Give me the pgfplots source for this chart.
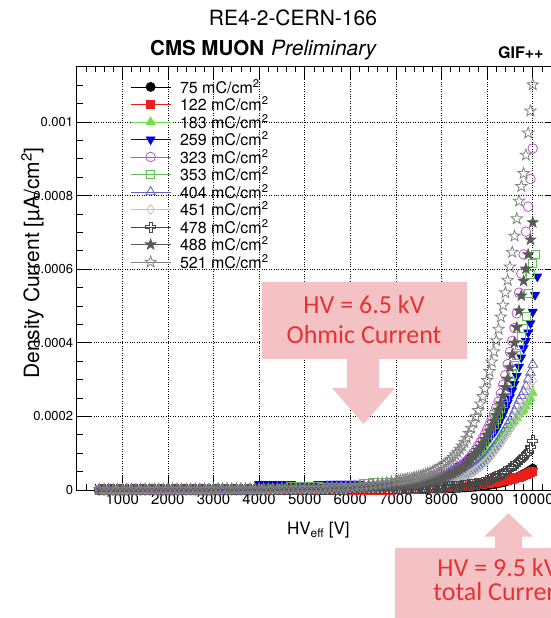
\documentclass[border=0pt]{standalone}
\usepackage{pgfplots}
\pgfplotsset{compat=1.18}
\usepackage{pgfplotstable}
\usepackage{fontspec}
\setmainfont{TeX Gyre Heros}
\newfontfamily\calibri{Carlito}

\definecolor{c75}{RGB}{0,0,0}
\definecolor{c122}{RGB}{235,30,25}
\definecolor{c183}{RGB}{110,225,70}
\definecolor{c259}{RGB}{0,0,230}
\definecolor{c323}{RGB}{190,80,200}
\definecolor{c353}{RGB}{100,190,90}
\definecolor{c404}{RGB}{100,100,190}
\definecolor{c451}{RGB}{195,195,195}
\definecolor{c478}{RGB}{70,70,70}
\definecolor{c488}{RGB}{90,90,90}
\definecolor{c521}{RGB}{130,130,130}
\definecolor{pinkbox}{RGB}{244,194,196}
\definecolor{annred}{RGB}{230,50,50}

% open five-pointed star
\pgfdeclareplotmark{ostar}{%
  \pgfpathmoveto{\pgfpointpolar{90}{\pgfplotmarksize}}%
  \pgfpathlineto{\pgfpointpolar{126}{0.4\pgfplotmarksize}}%
  \pgfpathlineto{\pgfpointpolar{162}{\pgfplotmarksize}}%
  \pgfpathlineto{\pgfpointpolar{198}{0.4\pgfplotmarksize}}%
  \pgfpathlineto{\pgfpointpolar{234}{\pgfplotmarksize}}%
  \pgfpathlineto{\pgfpointpolar{270}{0.4\pgfplotmarksize}}%
  \pgfpathlineto{\pgfpointpolar{306}{\pgfplotmarksize}}%
  \pgfpathlineto{\pgfpointpolar{342}{0.4\pgfplotmarksize}}%
  \pgfpathlineto{\pgfpointpolar{18}{\pgfplotmarksize}}%
  \pgfpathlineto{\pgfpointpolar{54}{0.4\pgfplotmarksize}}%
  \pgfpathclose\pgfusepathqstroke}
% filled five-pointed star
\pgfdeclareplotmark{fstar}{%
  \pgfpathmoveto{\pgfpointpolar{90}{\pgfplotmarksize}}%
  \pgfpathlineto{\pgfpointpolar{126}{0.4\pgfplotmarksize}}%
  \pgfpathlineto{\pgfpointpolar{162}{\pgfplotmarksize}}%
  \pgfpathlineto{\pgfpointpolar{198}{0.4\pgfplotmarksize}}%
  \pgfpathlineto{\pgfpointpolar{234}{\pgfplotmarksize}}%
  \pgfpathlineto{\pgfpointpolar{270}{0.4\pgfplotmarksize}}%
  \pgfpathlineto{\pgfpointpolar{306}{\pgfplotmarksize}}%
  \pgfpathlineto{\pgfpointpolar{342}{0.4\pgfplotmarksize}}%
  \pgfpathlineto{\pgfpointpolar{18}{\pgfplotmarksize}}%
  \pgfpathlineto{\pgfpointpolar{54}{0.4\pgfplotmarksize}}%
  \pgfpathclose\pgfusepathqfillstroke}
% open cross (outline of a plus sign)
\pgfdeclareplotmark{ocross}{%
  \pgfpathmoveto{\pgfqpoint{0.3\pgfplotmarksize}{\pgfplotmarksize}}%
  \pgfpathlineto{\pgfqpoint{-0.3\pgfplotmarksize}{\pgfplotmarksize}}%
  \pgfpathlineto{\pgfqpoint{-0.3\pgfplotmarksize}{0.3\pgfplotmarksize}}%
  \pgfpathlineto{\pgfqpoint{-\pgfplotmarksize}{0.3\pgfplotmarksize}}%
  \pgfpathlineto{\pgfqpoint{-\pgfplotmarksize}{-0.3\pgfplotmarksize}}%
  \pgfpathlineto{\pgfqpoint{-0.3\pgfplotmarksize}{-0.3\pgfplotmarksize}}%
  \pgfpathlineto{\pgfqpoint{-0.3\pgfplotmarksize}{-\pgfplotmarksize}}%
  \pgfpathlineto{\pgfqpoint{0.3\pgfplotmarksize}{-\pgfplotmarksize}}%
  \pgfpathlineto{\pgfqpoint{0.3\pgfplotmarksize}{-0.3\pgfplotmarksize}}%
  \pgfpathlineto{\pgfqpoint{\pgfplotmarksize}{-0.3\pgfplotmarksize}}%
  \pgfpathlineto{\pgfqpoint{\pgfplotmarksize}{0.3\pgfplotmarksize}}%
  \pgfpathlineto{\pgfqpoint{0.3\pgfplotmarksize}{0.3\pgfplotmarksize}}%
  \pgfpathclose\pgfusepathqstroke}

% Density current in units of 1e-6 uA/cm^2 versus HV_eff [V],
% one column per integrated charge (mC/cm^2)
\pgfplotstableread{
V a b c d e f g h i j k
500 1 0 1 3 -1 1 -2 1 1 1 1
600 1 0 1 3 -1 1 -2 1 1 1 1
700 1 0 1 3 -1 1 -2 1 1 1 1
800 1 0 1 3 -1 1 -2 1 1 1 1
900 1 0 1 3 -1 1 -2 1 1 1 1
1000 1 0 1 3 -1 1 -2 1 1 1 1
1100 1 0 1 3 -1 1 -2 1 1 1 1
1200 1 0 1 3 -1 1 -2 1 1 1 1
1300 1 0 1 3 -1 1 -2 1 1 1 1
1400 1 0 1 3 -1 1 -2 1 1 1 1
1500 1 0 1 3 -1 1 -2 1 1 1 2
1600 1 0 1 3 -1 1 -2 1 1 1 2
1700 1 0 1 3 -1 1 -2 1 1 1 2
1800 1 0 1 3 -1 1 -2 1 1 1 2
1900 1 0 1 3 -1 1 -2 1 1 1 2
2000 1 0 1 3 -1 1 -2 1 1 1 2
2100 1 0 1 3 -1 1 -2 1 1 1 2
2200 1 0 1 3 -1 1 -2 1 1 1 2
2300 1 0 1 3 -1 1 -2 1 1 1 2
2400 1 0 1 3 -1 1 -2 1 1 1 2
2500 1 0 1 3 -1 1 -2 1 1 1 2
2600 1 0 1 3 -1 1 -2 1 1 1 2
2700 1 0 1 3 -1 1 -2 1 1 1 2
2800 1 0 1 3 -1 1 -2 1 1 1 2
2900 1 0 1 3 -1 1 -2 1 1 1 2
3000 1 0 1 3 -1 1 -2 1 2 2 3
3100 1 0 1 3 -1 1 -2 1 2 2 3
3200 1 0 1 3 -1 1 -2 1 2 2 3
3300 1 0 1 3 -1 1 -2 1 2 2 3
3400 1 0 1 3 -1 1 -2 1 2 2 3
3500 1 0 1 3 -1 1 -2 1 2 2 3
3600 1 0 1 3 -1 1 -2 1 2 2 3
3700 1 0 1 3 -1 1 -2 1 2 2 3
3800 1 0 1 3 -1 1 -2 1 2 2 3
3900 1 0 1 3 -1 1 -2 1 2 2 3
4000 1 0 3 16 2 3 0 3 2 2 3
4100 1 0 3 16 2 3 0 3 2 2 3
4200 1 0 3 16 2 3 0 3 2 2 3
4300 1 0 3 16 2 3 0 3 2 2 3
4400 1 0 3 16 2 3 0 3 2 2 3
4500 1 0 3 16 2 3 0 3 2 2 5
4600 1 0 3 16 2 3 0 3 2 2 5
4700 1 0 3 16 2 10 0 3 2 2 5
4800 1 0 3 10 2 10 0 3 2 2 5
4900 1 0 3 10 2 10 0 3 2 2 5
5000 1 0 3 10 2 10 0 3 2 4 5
5100 1 0 3 10 2 10 0 3 2 4 5
5200 1 0 3 10 2 10 0 3 2 4 5
5300 1 0 3 16 2 10 0 3 2 4 5
5400 1 0 3 16 2 6 0 3 2 4 5
5500 1 0 3 16 2 6 0 3 2 4 8
5600 1 0 3 17 2 6 0 3 2 4 8
5700 1 0 3 17 2 6 0 3 2 4 8
5800 1 0 3 17 2 6 0 3 2 4 8
5900 1 0 3 17 2 6 0 3 2 4 8
6000 1 0 3 17 6 6 3 3 3 5 9
6100 1 0 3 17 7 6 3 3 3 6 10
6200 1 0 3 17 8 6 3 3 3 7 11
6300 1 0 3 12 9 18 3 3 3 8 12
6400 1 0 3 12 10 19 3 3 3 9 13
6500 1 0 4 12 11 20 4 5 3 10 14
6600 1 0 5 12 12 21 5 5 3 11 16
6700 1 0 6 12 13 21 6 5 3 12 18
6800 1 0 7 12 13 21 7 5 3 12 20
6900 1 0 7 12 14 21 7 5 4 13 22
7000 2 1 8 13 14 21 8 7 5 13 25
7050 2 1 9 13 14 21 8 7 5 13 26
7100 2 1 9 14 15 21 8 7 5 14 27
7150 2 1 9 14 15 21 9 8 5 14 28
7200 2 2 10 15 16 21 9 8 5 15 29
7250 2 2 10 15 17 21 9 8 6 15 30
7300 3 2 10 16 17 21 10 8 6 16 31
7350 3 2 11 16 18 21 10 9 6 16 32
7400 3 2 11 17 19 21 11 9 6 17 34
7450 3 3 12 18 19 21 11 9 6 18 35
7500 3 3 12 19 20 21 11 10 6 19 37
7550 3 3 13 20 21 21 12 11 6 20 39
7600 3 3 14 21 23 21 13 11 7 21 41
7650 3 3 14 22 24 21 13 12 7 22 43
7700 3 4 15 23 25 21 14 12 7 23 45
7750 4 4 16 24 26 22 15 13 7 24 47
7800 4 4 17 26 28 24 16 14 7 25 50
7850 4 4 17 28 29 25 16 14 7 27 53
7900 4 4 18 31 31 26 17 15 8 28 56
7950 4 5 20 34 33 28 19 16 8 30 60
8000 4 5 21 38 35 30 20 17 8 32 64
8050 4 5 22 41 37 32 21 18 8 34 68
8100 5 6 24 43 40 34 22 19 9 36 72
8150 5 6 25 46 42 36 24 21 9 39 77
8200 5 7 27 50 46 39 26 22 9 42 83
8250 5 7 29 53 49 42 28 24 10 45 89
8300 6 8 32 57 53 45 30 26 10 48 96
8350 6 8 34 61 57 48 32 28 11 52 103
8400 6 9 37 65 61 52 34 30 11 56 111
8450 7 9 40 69 66 56 37 32 12 60 120
8500 7 10 43 74 72 61 40 35 13 65 130
8550 7 11 47 78 78 66 44 38 13 71 141
8600 8 11 51 83 85 72 48 42 14 77 154
8650 8 12 55 88 92 79 52 45 15 84 168
8700 9 13 60 93 101 86 57 49 16 92 183
8750 9 13 66 98 109 94 62 54 17 100 199
8800 10 14 71 103 119 102 67 58 18 108 216
8850 11 15 77 108 129 110 73 63 19 117 234
8900 11 16 84 114 140 119 79 69 21 127 254
8950 12 17 91 122 151 129 85 74 22 138 275
9000 13 18 98 131 164 140 92 80 26 149 298
9050 14 19 105 140 177 151 100 87 29 161 322
9100 15 20 112 148 191 164 108 94 31 174 348
9150 16 21 119 156 207 177 117 102 34 188 376
9200 17 22 126 165 223 191 126 110 36 203 406
9250 18 23 133 178 240 205 135 118 39 218 437
9300 20 24 141 192 262 221 146 127 42 235 470
9350 21 25 149 206 286 236 156 136 46 256 502
9400 23 26 157 220 312 252 166 145 50 279 536
9450 25 27 165 236 342 268 177 154 54 302 570
9500 27 28 173 252 375 291 188 164 59 333 606
9550 29 30 182 270 405 313 200 174 63 368 646
9600 32 31 186 288 440 338 214 186 68 400 690
9650 34 33 196 310 480 365 228 199 73 442 737
9700 37 35 205 335 536 393 243 212 78 487 785
9750 40 37 213 360 588 417 256 223 84 528 825
9800 43 39 218 385 640 439 267 232 90 568 860
9850 46 42 227 405 702 473 282 246 97 601 910
9900 50 44 238 428 770 534 301 262 104 640 970
9950 54 47 249 453 845 587 319 278 116 680 1030
10000 58 50 264 484 928 615 341 297 134 727 1101
10050 nan nan nan 530 nan 639 nan nan nan nan nan
10100 nan nan nan 580 nan nan nan nan nan nan nan
}\hvdata

\begin{document}
\begin{tikzpicture}
\useasboundingbox (0pt,0pt) rectangle (551pt,618pt);
\clip (0pt,0pt) rectangle (551pt,618pt);
\begin{axis}[
  at={(76.7pt,128pt)}, anchor=south west,
  scale only axis, width=483.4pt, height=424pt,
  xmin=0, xmax=10600, ymin=0, ymax=1152,
  clip=false,
  scaled x ticks=false, scaled y ticks=false,
  axis line style={black, line width=0.8pt},
  tick align=inside,
  xtick={1000,2000,...,10000},
  xticklabels={1000,2000,3000,4000,5000,6000,7000,8000,9000,10000},
  minor xtick={200,400,...,10400},
  ytick={0,200,400,600,800,1000},
  yticklabels={0,0.0002,0.0004,0.0006,0.0008,0.001},
  minor ytick={50,100,...,1150},
  major tick length=14pt, minor tick length=6pt,
  tick style={black, line width=0.6pt},
  grid=major,
  major grid style={black, dotted, line width=0.6pt},
  x tick label style={font=\fontsize{15}{15}\selectfont},
  y tick label style={font=\fontsize{13}{13}\selectfont},
  xlabel={HV\textsubscript{eff} [V]},
  ylabel={Density Current [µA/cm\textsuperscript{2}]},
  every axis x label/.style={at={(axis description cs:0.5,0)}, anchor=base,
    yshift=-45pt, font=\fontsize{17}{17}\selectfont},
  every axis y label/.style={at={(axis description cs:0,0.535)}, xshift=-37.5pt,
    rotate=90, anchor=base, font=\fontsize{21}{21}\selectfont},
  legend cell align=left,
  legend style={draw=none, fill=none, at={(axis cs:1169,1117)},
    anchor=north west, font=\fontsize{16}{16}\selectfont,
    row sep=1.8pt, inner sep=0pt, nodes={inner sep=0pt},
    /tikz/every odd column/.append style={column sep=9pt}},
  legend image code/.code={
    \draw[#1] (0pt,0pt) -- (40pt,0pt);
    \draw[#1] plot coordinates {(20pt,0pt)};},
  every axis plot/.append style={only marks, line width=0.8pt},
]
\addplot[color=c75, mark=*, mark size=4.5pt] table[x=V,y=a]{\hvdata};
\addlegendentry{75 mC/cm\textsuperscript{2}}
\addplot[color=c122, mark=square*, mark size=4pt] table[x=V,y=b]{\hvdata};
\addlegendentry{122 mC/cm\textsuperscript{2}}
\addplot[color=c183, mark=triangle*, mark size=5pt] table[x=V,y=c]{\hvdata};
\addlegendentry{183 mC/cm\textsuperscript{2}}
\addplot[color=c259, mark=triangle*, mark size=5pt, mark options={rotate=180}] table[x=V,y=d]{\hvdata};
\addlegendentry{259 mC/cm\textsuperscript{2}}
\addplot[color=c323, mark=o, mark size=4.8pt] table[x=V,y=e]{\hvdata};
\addlegendentry{323 mC/cm\textsuperscript{2}}
\addplot[color=c353, mark=square, mark size=4pt] table[x=V,y=f]{\hvdata};
\addlegendentry{353 mC/cm\textsuperscript{2}}
\addplot[color=c404, mark=triangle, mark size=5.5pt] table[x=V,y=g]{\hvdata};
\addlegendentry{404 mC/cm\textsuperscript{2}}
\addplot[color=c451, mark=diamond, mark size=5pt] table[x=V,y=h]{\hvdata};
\addlegendentry{451 mC/cm\textsuperscript{2}}
\addplot[color=c478, mark=ocross, mark size=5pt] table[x=V,y=i]{\hvdata};
\addlegendentry{478 mC/cm\textsuperscript{2}}
\addplot[color=c488, mark=fstar, mark size=5.5pt, mark options={fill=c488}] table[x=V,y=j]{\hvdata};
\addlegendentry{488 mC/cm\textsuperscript{2}}
\addplot[color=c521, mark=ostar, mark size=6pt] table[x=V,y=k]{\hvdata};
\addlegendentry{521 mC/cm\textsuperscript{2}}
\end{axis}

% headings
\node[anchor=base, inner sep=0pt, font=\fontsize{21}{21}\selectfont] at (293pt,592pt) {RE4-2-CERN-166};
\node[anchor=base west, inner sep=0pt, font=\bfseries\fontsize{20.5}{20.5}\selectfont] at (150pt,562pt) {CMS MUON};
\node[anchor=base west, inner sep=0pt, font=\itshape\fontsize{21}{21}\selectfont] at (271pt,562pt) {Preliminary};
\node[anchor=base west, inner sep=0pt, font=\bfseries\fontsize{16}{16}\selectfont] at (498pt,559pt) {GIF++};

% call-out: ohmic current
\fill[pinkbox] (262pt,336pt) -- (467pt,336pt) -- (467pt,259pt) -- (379pt,259pt)
  -- (379pt,230pt) -- (395pt,230pt) -- (363.5pt,194pt) -- (332pt,230pt)
  -- (347pt,230pt) -- (347pt,259pt) -- (262pt,259pt) -- cycle;
\node[anchor=base, inner sep=0pt, text=annred, font=\calibri\fontsize{26}{26}\selectfont] at (364pt,304pt) {HV = 6.5 kV};
\node[anchor=base, inner sep=0pt, text=annred, font=\calibri\fontsize{26}{26}\selectfont] at (364pt,274pt) {Ohmic Current};

% call-out: total current
\fill[pinkbox] (395pt,70pt) -- (495pt,70pt) -- (495pt,81.3pt) -- (484pt,81.3pt)
  -- (508.5pt,104.7pt) -- (533pt,81.3pt) -- (522pt,81.3pt) -- (522pt,70pt)
  -- (610pt,70pt) -- (610pt,-10pt) -- (395pt,-10pt) -- cycle;
\node[anchor=base, inner sep=0pt, text=annred, font=\calibri\fontsize{26}{26}\selectfont] at (498pt,41.3pt) {HV = 9.5 kV};
\node[anchor=base, inner sep=0pt, text=annred, font=\calibri\fontsize{26}{26}\selectfont] at (501pt,17pt) {total Current};
\end{tikzpicture}
\end{document}
